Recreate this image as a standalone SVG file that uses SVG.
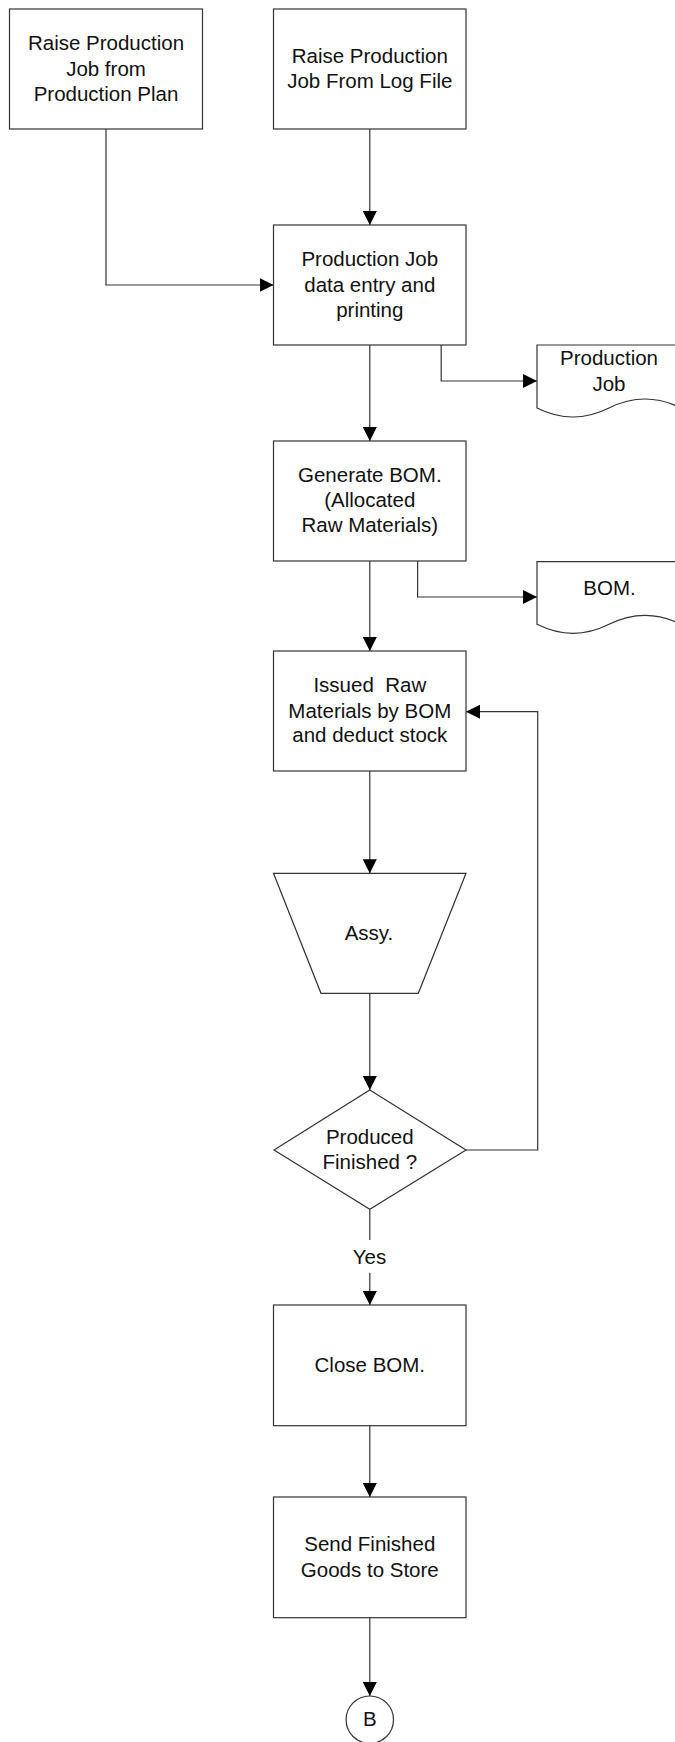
<svg xmlns="http://www.w3.org/2000/svg" width="675" height="1742" viewBox="0 0 675 1742">
<style>
.shape{fill:#fff;stroke:#333;stroke-width:1.2}
.conn{fill:none;stroke:#333;stroke-width:1.2}
text{font-family:"Liberation Sans",Arial,sans-serif;font-size:20.5px;fill:#111;text-anchor:middle}
</style>
<defs>
<marker id="arr" markerUnits="userSpaceOnUse" markerWidth="14" markerHeight="14" refX="14" refY="7" orient="auto" viewBox="0 0 14 14">
<path d="M0,0 L14,7 L0,14 Z" fill="#000"/>
</marker>
</defs>
<rect width="675" height="1742" fill="#fff"/>
<g id="connectors">
<path class="conn" d="M106,129 V285 H273.5" marker-end="url(#arr)"/>
<path class="conn" d="M369.8,129 V225" marker-end="url(#arr)"/>
<path class="conn" d="M369.8,345 V441" marker-end="url(#arr)"/>
<path class="conn" d="M441.2,345 V381 H537" marker-end="url(#arr)"/>
<path class="conn" d="M369.8,561 V651" marker-end="url(#arr)"/>
<path class="conn" d="M417.6,561 V597 H537" marker-end="url(#arr)"/>
<path class="conn" d="M369.8,771 V873.3" marker-end="url(#arr)"/>
<path class="conn" d="M369.8,993.3 V1090" marker-end="url(#arr)"/>
<path class="conn" d="M466,1150 H537.7 V711.7 H466" marker-end="url(#arr)"/>
<path class="conn" d="M369.8,1209.3 V1240"/>
<path class="conn" d="M369.8,1272.7 V1305" marker-end="url(#arr)"/>
<text x="369.5" y="1264">Yes</text>
<path class="conn" d="M369.8,1425.7 V1497" marker-end="url(#arr)"/>
<path class="conn" d="M369.8,1617.7 V1696" marker-end="url(#arr)"/>
</g>
<g id="raise-plan">
<rect class="shape" x="9.5" y="9" width="193" height="120"/>
<text x="106" y="50">Raise Production</text>
<text x="106" y="75.5">Job from</text>
<text x="106" y="101">Production Plan</text>
</g>
<g id="raise-log">
<rect class="shape" x="273.5" y="9" width="192.5" height="120"/>
<text x="369.8" y="62.7">Raise Production</text>
<text x="369.8" y="88">Job From Log File</text>
</g>
<g id="data-entry">
<rect class="shape" x="273.5" y="225" width="192.5" height="120"/>
<text x="369.8" y="265.7">Production Job</text>
<text x="369.8" y="291.5">data entry and</text>
<text x="369.8" y="316.5">printing</text>
</g>
<g id="doc-production-job">
<path class="shape" d="M537,345 H681 V408 C657,396 633,396 609,408 C585,420 561,420 537,408 Z"/>
<text x="609" y="365">Production</text>
<text x="609" y="390.7">Job</text>
</g>
<g id="generate-bom">
<rect class="shape" x="273.5" y="441" width="192.5" height="120"/>
<text x="369.8" y="481.7">Generate BOM.</text>
<text x="369.8" y="506.7">(Allocated</text>
<text x="369.8" y="532.3">Raw Materials)</text>
</g>
<g id="doc-bom">
<path class="shape" d="M537,561.7 H681 V624.3 C657,612.3 633,612.3 609,624.3 C585,636.3 561,636.3 537,624.3 Z"/>
<text x="609.5" y="595">BOM.</text>
</g>
<g id="issue-materials">
<rect class="shape" x="273.5" y="651" width="192.5" height="120"/>
<text x="369.8" y="691.7" xml:space="preserve">Issued  Raw</text>
<text x="369.8" y="717.7">Materials by BOM</text>
<text x="369.8" y="742.3">and deduct stock</text>
</g>
<g id="assy">
<path class="shape" d="M273.5,873.3 H466 L418.3,993.3 H321 Z"/>
<text x="369" y="940">Assy.</text>
</g>
<g id="produced-finished">
<path class="shape" d="M369.8,1090 L466,1150 L369.8,1209.3 L274,1150 Z"/>
<text x="369.8" y="1144">Produced</text>
<text x="369.8" y="1169">Finished ?</text>
</g>
<g id="close-bom">
<rect class="shape" x="273.5" y="1305" width="192.5" height="120.7"/>
<text x="369.8" y="1371.7">Close BOM.</text>
</g>
<g id="send-goods">
<rect class="shape" x="273.5" y="1497" width="192.5" height="120.7"/>
<text x="369.8" y="1551">Send Finished</text>
<text x="369.8" y="1576.7">Goods to Store</text>
</g>
<g id="connector-b">
<circle class="shape" cx="369.8" cy="1719.7" r="23.7"/>
<text x="369.8" y="1725.7">B</text>
</g>
</svg>
